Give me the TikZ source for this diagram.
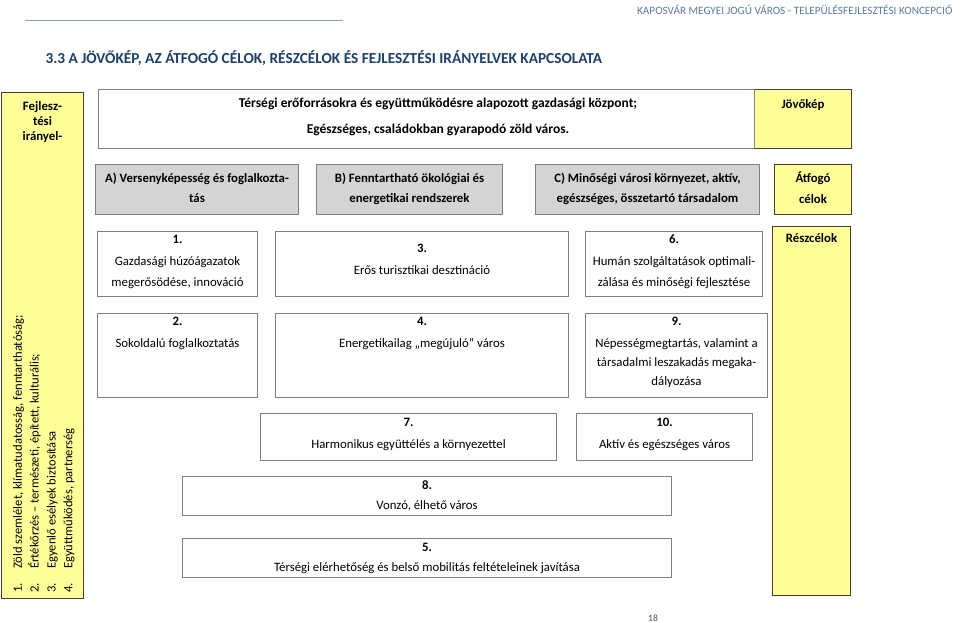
\documentclass[tikz,border=0pt]{standalone}
\usepackage{fontspec}
\setmainfont{Carlito}
\usepackage{xcolor}
\usetikzlibrary{positioning}

\definecolor{paleyellow}{HTML}{FFFF99}
\definecolor{goalgray}{HTML}{D4D4D4}
\definecolor{edgegray}{HTML}{808080}
\definecolor{titleblue}{HTML}{1F3F6B}
\definecolor{headblue}{HTML}{5A7AA5}

\begin{document}
\begin{tikzpicture}[
    x=1pt, y=-1pt,
    cell/.style={draw=edgegray, line width=1pt, inner sep=0pt, anchor=north west},
    goal/.style={cell, fill=goalgray},
    level/.style={draw=black!75, line width=1pt, fill=paleyellow, inner sep=0pt, anchor=north west},
    txt/.style={inner sep=0pt, align=center, font=\fontsize{12.8}{21}\selectfont},
    btxt/.style={txt, font=\fontsize{12.8}{21}\selectfont\bfseries}
]
    \useasboundingbox (0,0) rectangle (960,623);

    % page header
    \node[anchor=east, text=headblue, font=\fontsize{11.2}{13}\selectfont] (runhead) at (956,10)
        {KAPOSVÁR MEGYEI JOGÚ VÁROS - TELEPÜLÉSFEJLESZTÉSI KONCEPCIÓ};
    \coordinate (rule-l) at (25,20);
    \coordinate (rule-r) at (343,20);
    \draw[headblue!70, line width=0.8pt] (rule-l) -- (rule-r);
    \node[anchor=west, text=titleblue, font=\fontsize{15.3}{17}\selectfont\bfseries] (title) at (42,58)
        {3.3 A JÖVŐKÉP, AZ ÁTFOGÓ CÉLOK, RÉSZCÉLOK ÉS FEJLESZTÉSI IRÁNYELVEK KAPCSOLATA};

    % level labels (yellow)
    \node[level, minimum width=82pt, minimum height=506pt] (irany) at (1,92) {};
    \node[level, minimum width=97pt, minimum height=59pt] (jovokep) at (754,89) {};
    \node[level, minimum width=77pt, minimum height=50pt] (atfogo) at (774,164) {};
    \node[level, minimum width=78pt, minimum height=369pt] (reszcel) at (772,226) {};

    \node[btxt, font=\fontsize{12.8}{15}\selectfont\bfseries, below=9pt of irany.north] {Fejlesz-\\tési\\irányel-};
    \node[btxt, below=10pt of jovokep.north] {Jövőkép};
    \node[btxt, below=8pt of atfogo.north] {Átfogó\\célok};
    \node[btxt, below=7pt of reszcel.north] {Részcélok};

    % guidelines, rotated
    \node[txt, rotate=90, anchor=north west, align=left, font=\fontsize{12.6}{16.8}\selectfont] (elvek) at (13,593) {%
        \makebox[24pt][l]{1.}Zöld szemlélet, klímatudatosság, fenntarthatóság;\\
        \makebox[24pt][l]{2.}Értékőrzés – természeti, épített, kulturális;\\
        \makebox[24pt][l]{3.}Egyenlő esélyek biztosítása\\
        \makebox[24pt][l]{4.}Együttműködés, partnerség};

    % vision
    \node[cell, minimum width=656pt, minimum height=59pt] (vision) at (98,89) {};
    \node[btxt, font=\fontsize{13.5}{21}\selectfont\bfseries, anchor=north] at (438,98) {Térségi erőforrásokra és együttműködésre alapozott gazdasági központ;\\[5pt]
        Egészséges, családokban gyarapodó zöld város.};

    % overall goals
    \node[goal, minimum width=203pt, minimum height=50pt] (goalA) at (95,164) {};
    \node[goal, minimum width=186pt, minimum height=50pt] (goalB) at (316,164) {};
    \node[goal, minimum width=224pt, minimum height=50pt] (goalC) at (535,164) {};
    \node[btxt, font=\fontsize{12.8}{20}\selectfont\bfseries, below=9pt of goalA.north] {A) Versenyképesség és foglalkozta-\\tás};
    \node[btxt, font=\fontsize{12.8}{20}\selectfont\bfseries, below=9pt of goalB.north] {B) Fenntartható ökológiai és\\energetikai rendszerek};
    \node[btxt, font=\fontsize{12.8}{20}\selectfont\bfseries, below=9pt of goalC.north] {C) Minőségi városi környezet, aktív,\\egészséges, összetartó társadalom};

    % sub-goals
    \node[cell, minimum width=160pt, minimum height=65pt] (sub1) at (97,231) {};
    \node[cell, minimum width=293pt, minimum height=65pt] (sub3) at (275,231) {};
    \node[cell, minimum width=177pt, minimum height=65pt] (sub6) at (585,231) {};
    \node[cell, minimum width=160pt, minimum height=84pt] (sub2) at (97,313) {};
    \node[cell, minimum width=293pt, minimum height=84pt] (sub4) at (275,313) {};
    \node[cell, minimum width=182pt, minimum height=84pt] (sub9) at (585,313) {};
    \node[cell, minimum width=296pt, minimum height=47pt] (sub7) at (260,413) {};
    \node[cell, minimum width=176pt, minimum height=47pt] (sub10) at (576,413) {};
    \node[cell, minimum width=489pt, minimum height=39pt] (sub8) at (182,476) {};
    \node[cell, minimum width=489pt, minimum height=39pt] (sub5) at (182,538) {};

    \node[txt, below=4pt of sub1.north] {\textbf{1.}\\[1pt]Gazdasági húzóágazatok\\megerősödése, innováció};
    \node[txt, below=13pt of sub3.north] {\textbf{3.}\\[1pt]Erős turisztikai desztináció};
    \node[txt, below=4pt of sub6.north] {\textbf{6.}\\[1pt]Humán szolgáltatások optimali-\\zálása és minőségi fejlesztése};
    \node[txt, below=4pt of sub2.north] {\textbf{2.}\\[1pt]Sokoldalú foglalkoztatás};
    \node[txt, below=4pt of sub4.north] {\textbf{4.}\\[1pt]Energetikailag „megújuló” város};
    \node[txt, font=\fontsize{12.8}{19}\selectfont, below=4pt of sub9.north] {\textbf{9.}\\[3pt]Népességmegtartás, valamint a\\társadalmi leszakadás megaka-\\dályozása};
    \node[txt, below=5pt of sub7.north] {\textbf{7.}\\[1pt]Harmonikus együttélés a környezettel};
    \node[txt, below=5pt of sub10.north] {\textbf{10.}\\[1pt]Aktív és egészséges város};
    \node[txt, font=\fontsize{12.8}{20}\selectfont, below=4pt of sub8.north] {\textbf{8.}\\Vonzó, élhető város};
    \node[txt, font=\fontsize{12.8}{20}\selectfont, below=5pt of sub5.north] {\textbf{5.}\\Térségi elérhetőség és belső mobilitás feltételeinek javítása};

    % page number
    \node[text=black!70, font=\fontsize{9.5}{10}\selectfont] (pageno) at (653,618) {18};
\end{tikzpicture}
\end{document}
